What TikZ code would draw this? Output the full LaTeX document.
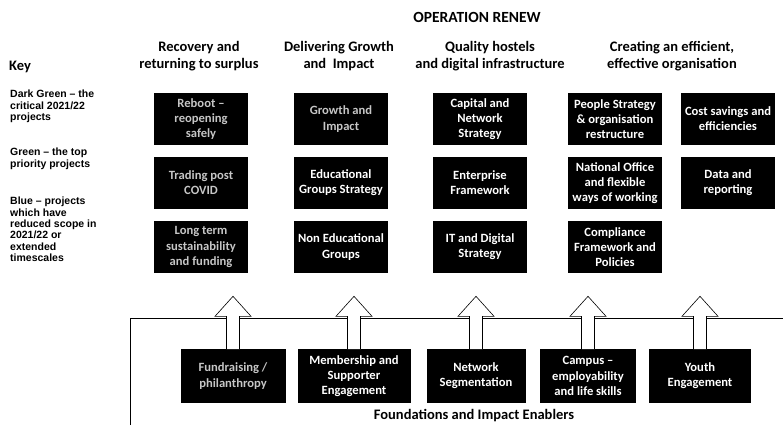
\documentclass[tikz,border=0pt]{standalone}
\usepackage{fontspec}
\newfontfamily\calib{Carlito}
\newfontfamily\arialf{Liberation Sans}
\usepackage{tikz}

\begin{document}
\begin{tikzpicture}[x=1pt,y=-1pt,
  proj/.style={fill=black,draw=black,text=white,align=center,inner sep=0pt,
    minimum width=93pt,minimum height=51pt,
    font=\calib\bfseries\fontsize{12.6}{15.2}\selectfont},
  dimproj/.style={proj,text=gray!45},
  colhead/.style={align=center,font=\calib\bfseries\fontsize{14.5}{17.5}\selectfont},
  keytext/.style={anchor=north west,align=left,inner sep=0pt,
    font=\arialf\bfseries\fontsize{10.5}{11.3}\selectfont},
  blockarr/.style={draw=black,fill=white,line width=0.6pt}]
  \useasboundingbox (0,0) rectangle (783,425);
  \node[colhead,font=\calib\bfseries\fontsize{15.5}{18}\selectfont] (title) at (477,17) {OPERATION RENEW};
  \node[colhead] (h1) at (199,56) {Recovery and\\returning to surplus};
  \node[colhead] (h2) at (339,56) {Delivering Growth\\and~~Impact};
  \node[colhead] (h3) at (490,56) {Quality hostels\\and digital infrastructure};
  \node[colhead] (h4) at (672,56) {Creating an efficient,\\effective organisation};
  \node[colhead,anchor=west,inner sep=0pt] (key) at (9,67) {Key};
  \node[keytext] (k1) at (10,90) {Dark Green – the\\critical 2021/22\\projects};
  \node[keytext] (k2) at (10,148) {Green – the top\\priority projects};
  \node[keytext] (k3) at (10,197) {Blue – projects\\which have\\reduced scope in\\2021/22 or\\extended\\timescales};
  \node[dimproj] (a1) at (201,119) {Reboot –\\reopening\\safely};
  \node[dimproj] (b1) at (341,119) {Growth and\\Impact};
  \node[proj] (c1) at (480,119) {Capital and\\Network\\Strategy};
  \node[proj] (d1) at (615,119) {People Strategy\\\& organisation\\restructure};
  \node[proj] (e1) at (728,119) {Cost savings and\\efficiencies};
  \node[dimproj] (a2) at (201,183) {Trading post\\COVID};
  \node[proj] (b2) at (341,183) {Educational\\Groups Strategy};
  \node[proj] (c2) at (480,183) {Enterprise\\Framework};
  \node[proj] (d2) at (615,183) {National Office\\and flexible\\ways of working};
  \node[proj] (e2) at (728,183) {Data and\\reporting};
  \node[dimproj] (a3) at (201,247) {Long term\\sustainability\\and funding};
  \node[proj] (b3) at (341,247) {Non Educational\\Groups};
  \node[proj] (c3) at (480,247) {IT and Digital\\Strategy};
  \node[proj] (d3) at (615,247) {Compliance\\Framework and\\Policies};
  \coordinate (fbl) at (130,425);
  \coordinate (fbr) at (783,318);
  \draw[line width=0.8pt] (fbl) |- (fbr);
  \node[dimproj,minimum width=104pt,minimum height=53pt] (f1) at (233,376) {Fundraising /\\philanthropy};
  \node[proj,minimum width=112pt,minimum height=53pt] (f2) at (354,376) {Membership and\\Supporter\\Engagement};
  \node[proj,minimum width=98pt,minimum height=53pt] (f3) at (476,376) {Network\\Segmentation};
  \node[proj,minimum width=95pt,minimum height=53pt] (f4) at (588,376) {Campus –\\employability\\and life skills};
  \node[proj,minimum width=101pt,minimum height=53pt] (f5) at (700,376) {Youth\\Engagement};
  \foreach \b in {f1,f2,f3,f4,f5}
    \draw[blockarr] (\b.north) ++(-6.5,0) -- ++(0,-33) -- ++(-11.5,0) -- ++(18,-20)
      -- ++(18,20) -- ++(-11.5,0) -- ++(0,33) -- cycle;
  \node[colhead] (found) at (474,416) {Foundations and Impact Enablers};
\end{tikzpicture}
\end{document}
